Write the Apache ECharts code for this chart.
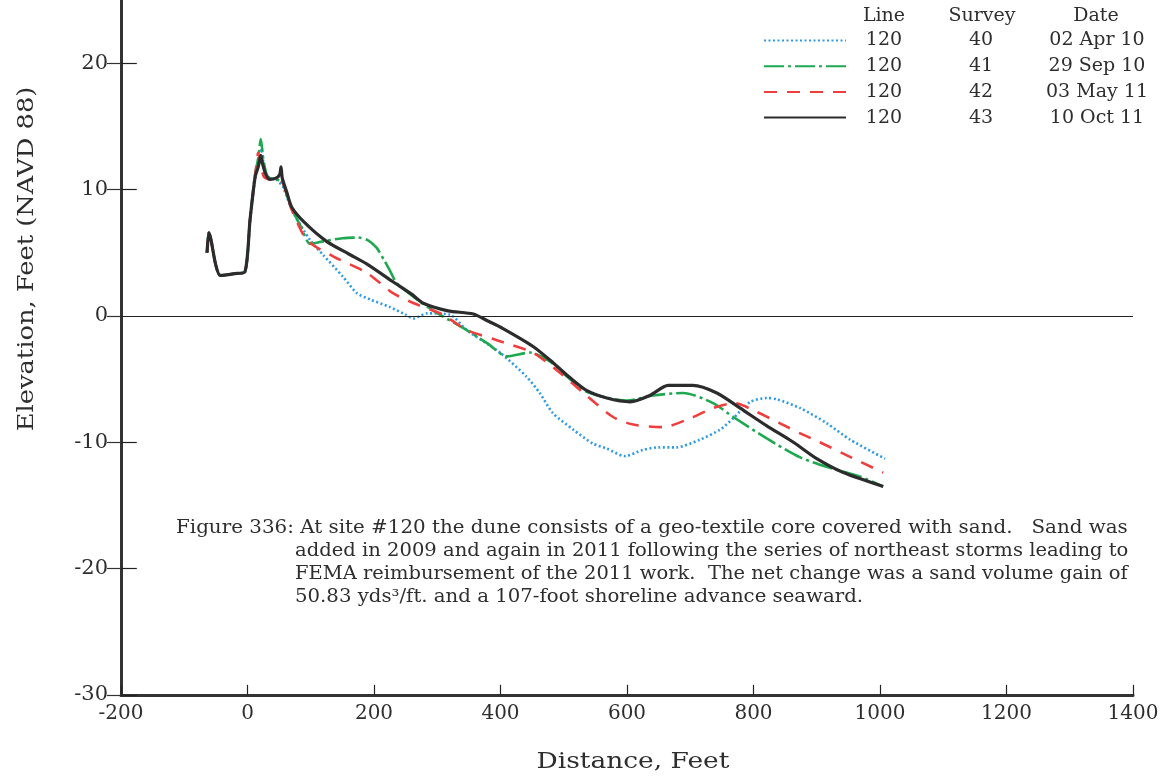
<!DOCTYPE html>
<html>
<head>
<meta charset="utf-8">
<title>Line 120 beach profiles</title>
<script src="https://cdn.jsdelivr.net/npm/echarts@6/dist/echarts.min.js"></script>
<style>
  html, body { margin: 0; padding: 0; background: #fff; }
  #chart { width: 1172px; height: 782px; }
</style>
</head>
<body>
<div id="chart"></div>
<script>
// Profile surveys along line 120: [distance (ft), elevation (ft, NAVD 88)]
const survey40 = [
  [-64, 5.0], [-61, 6.6], [-58, 6.1], [-50, 4.0], [-43, 3.2], [-20, 3.35], [-4, 3.5],
  [4, 7.6], [12, 10.8], [17, 12.3], [22, 13.2], [27, 11.5], [35, 10.9], [45, 10.8],
  [56, 10.2], [72, 8.2], [99, 6.0], [120, 4.8], [151, 3.1], [173, 1.8], [194, 1.3],
  [225, 0.7], [250, 0.1], [262, -0.2], [284, 0.2], [320, 0.1], [346, -1.1], [399, -2.9],
  [441, -4.8], [462, -6.1], [483, -7.7], [515, -9.0], [546, -10.1], [568, -10.5],
  [597, -11.1], [625, -10.6], [650, -10.4], [678, -10.4], [715, -9.8], [747, -9.0],
  [768, -8.1], [795, -6.8], [821, -6.5], [837, -6.6], [874, -7.3], [916, -8.5],
  [953, -9.8], [1008, -11.3]
];
const survey41 = [
  [-64, 5.0], [-61, 6.6], [-58, 6.1], [-50, 4.0], [-43, 3.2], [-20, 3.35], [-4, 3.5],
  [4, 7.6], [12, 11.2], [17, 12.5], [21, 14.0], [25, 12.4], [30, 11.2], [35, 10.9],
  [45, 10.8], [55, 10.6], [62, 9.6], [70, 8.5], [85, 7.0], [99, 5.7], [120, 5.9],
  [150, 6.15], [175, 6.2], [190, 6.0], [204, 5.4], [215, 4.5], [225, 3.6], [236, 2.6],
  [268, 1.3], [304, 0.1], [346, -1.1], [380, -2.2], [410, -3.2], [447, -2.9],
  [478, -3.6], [505, -4.8], [536, -6.0], [600, -6.7], [641, -6.3], [689, -6.1],
  [736, -6.9], [768, -8.0], [821, -9.7], [874, -11.2], [926, -12.1], [968, -12.7],
  [1005, -13.5]
];
const survey42 = [
  [-64, 5.0], [-61, 6.6], [-58, 6.1], [-50, 4.0], [-43, 3.2], [-20, 3.35], [-4, 3.5],
  [4, 7.6], [12, 11.0], [17, 12.9], [21, 12.0], [26, 11.0], [35, 10.8], [45, 10.9],
  [55, 10.6], [62, 9.6], [70, 8.4], [94, 6.0], [136, 4.7], [189, 3.4], [230, 1.8],
  [268, 0.9], [309, 0.1], [346, -1.1], [393, -1.9], [451, -2.9], [489, -4.3],
  [536, -6.3], [578, -8.0], [610, -8.6], [657, -8.8], [700, -8.1], [736, -7.3],
  [770, -6.9], [805, -7.6], [842, -8.5], [874, -9.3], [905, -10.0], [942, -10.9],
  [1005, -12.4]
];
const survey43 = [
  [-64, 5.0], [-61, 6.6], [-58, 6.1], [-50, 4.0], [-43, 3.2], [-20, 3.35], [-4, 3.5],
  [4, 7.6], [12, 11.0], [17, 11.8], [21, 12.7], [24, 12.0], [29, 11.2], [35, 10.8],
  [45, 10.9], [51, 11.2], [53, 11.8], [55, 10.9], [62, 9.8], [70, 8.6], [90, 7.4],
  [125, 5.9], [160, 4.9], [189, 4.1], [230, 2.7], [260, 1.7], [278, 1.0], [317, 0.4],
  [357, 0.15], [380, -0.4], [404, -1.0], [451, -2.4], [483, -3.7], [510, -4.9],
  [536, -5.9], [568, -6.5], [605, -6.8], [636, -6.3], [665, -5.5], [704, -5.5],
  [742, -6.1], [779, -7.3], [821, -8.7], [863, -10.0], [900, -11.3], [942, -12.4],
  [1005, -13.5]
];

// Legend table columns
const legendHeader = ['Line', 'Survey', 'Date'];
const lineIds = ['120', '120', '120', '120'];
const surveyIds = ['40', '41', '42', '43'];
const surveyDates = ['02 Apr 10', '29 Sep 10', '03 May 11', '10 Oct 11'];

// Axis setup and tick values
const xMin = -200, xMax = 1400, xStep = 200;
const yMin = -30, yMax = 25, yStep = 10;
const xTicks = [-200, 0, 200, 400, 600, 800, 1000, 1200, 1400];
const yTicks = [-30, -20, -10, 10, 20];
const xTitle = 'Distance, Feet';
const yTitle = 'Elevation, Feet (NAVD 88)';

const captionLines = [
  'Figure 336: At site #120 the dune consists of a geo-textile core covered with sand.   Sand was',
  'added in 2009 and again in 2011 following the series of northeast storms leading to',
  'FEMA reimbursement of the 2011 work.  The net change was a sand volume gain of',
  '50.83 yds\u00B3/ft. and a 107-foot shoreline advance seaward.'
];
// horizontal stretch per caption line so the block is set flush on both sides
const captionStretch = [1.104, 1.086, 1.082, 1.095];

const SERIF = '"DejaVu Serif", "Liberation Serif", serif';
const INK = '#2e2e2e';
const AXIS_INK = '#333';

// reach of the inner tick marks, in axis units (about 16 px and 10 px)
const yTickReach = 25;
const xTickReach = 0.8;

const chart = echarts.init(document.getElementById('chart'), null, { renderer: 'canvas' });

const styles = [
  { color: '#2f9be3', width: 2.6, type: [2, 2.5] },
  { color: '#1ea84f', width: 2.6, type: [20, 4, 3, 4] },
  { color: '#ef3e3e', width: 2.6, type: [13, 10] },
  { color: '#2c2c2c', width: 3.2, type: 'solid' }
];
const datasets = [survey40, survey41, survey42, survey43];

const series = datasets.map((d, i) => ({
  name: surveyIds[i],
  type: 'line',
  data: d,
  symbol: 'none',
  smooth: 0.25,
  z: 3 + i,
  lineStyle: { color: styles[i].color, width: styles[i].width, type: styles[i].type, cap: 'butt' },
  itemStyle: { color: styles[i].color },
  emphasis: { disabled: true }
}));

// zero elevation reference line, plus the tick marks reaching into the plot
const innerTicks = yTicks.map(v => [{ coord: [xMin, v] }, { coord: [xMin + yTickReach, v] }])
  .concat(xTicks.map(v => [{ coord: [v, yMin] }, { coord: [v, yMin + xTickReach] }]));

series[3].markLine = {
  silent: true,
  symbol: 'none',
  animation: false,
  label: { show: false },
  emphasis: { disabled: true },
  lineStyle: { color: '#222', width: 1.2, type: 'solid' },
  data: [{ yAxis: 0 }].concat(innerTicks)
};

const rowIndex = {};
surveyIds.forEach((s, i) => { rowIndex[s] = i; });

const headerX = [884, 982, 1096];

const textEl = (text, x, y, size, opts) => Object.assign({
  type: 'text', x: x, y: y, silent: true,
  style: { text: text, font: size + 'px ' + SERIF, fill: INK, align: 'center', verticalAlign: 'middle' }
}, opts || {});

const option = {
  backgroundColor: '#ffffff',
  animation: false,
  grid: { left: 121, right: 39, top: 0, bottom: 87, containLabel: false },
  xAxis: {
    type: 'value',
    min: xMin, max: xMax, interval: xStep,
    axisLine: { show: true, onZero: false, lineStyle: { color: AXIS_INK, width: 3 } },
    axisTick: { show: false },
    axisLabel: { fontFamily: SERIF, fontSize: 20, color: INK, margin: 9, formatter: v => String(v) },
    splitLine: { show: false }
  },
  yAxis: {
    type: 'value',
    min: yMin, max: yMax, interval: yStep,
    axisLine: { show: true, onZero: false, lineStyle: { color: AXIS_INK, width: 3 } },
    axisTick: { show: true, length: 14, lineStyle: { color: AXIS_INK, width: 1.2 } },
    axisLabel: { fontFamily: SERIF, fontSize: 21, color: INK, margin: 13, showMaxLabel: false, formatter: v => String(v) },
    splitLine: { show: false }
  },
  legend: {
    orient: 'vertical',
    left: 763,
    top: 31,
    itemWidth: 82,
    itemHeight: 18,
    itemGap: 6.7,
    selectedMode: false,
    padding: 0,
    data: surveyIds,
    itemStyle: { opacity: 0 },
    textStyle: {
      fontFamily: SERIF, fontSize: 19, color: INK,
      rich: {
        a: { width: 66, align: 'center', fontFamily: SERIF, fontSize: 19, color: INK, height: 18 },
        b: { width: 128, align: 'center', fontFamily: SERIF, fontSize: 19, color: INK, height: 18 },
        c: { width: 104, align: 'center', fontFamily: SERIF, fontSize: 19, color: INK, height: 18 }
      }
    },
    formatter: name => {
      const i = rowIndex[name];
      return '{a|' + lineIds[i] + '}{b|' + surveyIds[i] + '}{c|' + surveyDates[i] + '}';
    }
  },
  graphic: legendHeader.map((t, i) => textEl(t, headerX[i], 16, 19))
    .concat([
      textEl(xTitle, 633, 762, 23, { scaleX: 1.15 }),
      textEl(yTitle, 27, 259, 22, { rotation: Math.PI / 2, scaleX: 1.17 })
    ])
    .concat(captionLines.map((t, i) => ({
      type: 'text', silent: true,
      x: i === 0 ? 176 : 295,
      y: 528 + i * 23,
      scaleX: captionStretch[i],
      style: { text: t, font: '18px ' + SERIF, fill: INK, align: 'left', verticalAlign: 'middle' }
    }))),
  series: series
};

chart.setOption(option);
</script>
</body>
</html>
